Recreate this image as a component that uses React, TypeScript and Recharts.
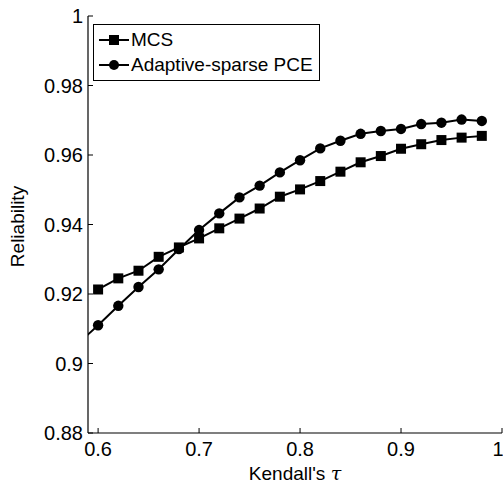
import React from 'react';
import { LineChart, Line, XAxis, YAxis, Legend } from 'recharts';

// Kendall's tau (0.58 only feeds the PCE line, it sits left of the visible range)
const tau = [0.58, 0.6, 0.62, 0.64, 0.66, 0.68, 0.7, 0.72, 0.74, 0.76, 0.78, 0.8, 0.82, 0.84, 0.86, 0.88, 0.9, 0.92, 0.94, 0.96, 0.98];
const mcs = [null, 0.9213, 0.9245, 0.9267, 0.9307, 0.9334, 0.936, 0.9389, 0.9417, 0.9446, 0.948, 0.9501, 0.9525, 0.9552, 0.9579, 0.9597, 0.9618, 0.9631, 0.9643, 0.965, 0.9655];
const pce = [0.9057, 0.911, 0.9166, 0.922, 0.9271, 0.9329, 0.9384, 0.9432, 0.9478, 0.9512, 0.955, 0.9585, 0.9619, 0.9641, 0.9661, 0.9669, 0.9675, 0.9689, 0.9693, 0.9702, 0.9698];

const xTicks = [0.6, 0.7, 0.8, 0.9, 1];
const yTicks = [0.88, 0.9, 0.92, 0.94, 0.96, 0.98, 1];
const seriesNames = ['MCS', 'Adaptive-sparse PCE'];

const data = tau.map((t, i) => ({ tau: t, mcs: mcs[i], pce: pce[i] }));

const FONT = 'Liberation Sans, Arial, Helvetica, sans-serif';
const tickStyle = { fontSize: 20, fill: '#000', fontFamily: FONT };

const SquareDot = (props: any) => {
  const { cx, cy } = props;
  if (cx == null || cy == null) return null;
  return <rect x={cx - 5} y={cy - 5} width={10} height={10} fill="#000" />;
};

const CircleDot = (props: any) => {
  const { cx, cy } = props;
  if (cx == null || cy == null) return null;
  return <circle cx={cx} cy={cy} r={5.2} fill="#000" />;
};

const LegendBox = () => (
  <div style={{ border: '1px solid #000', background: '#fff', padding: '2px 6px 3px 5px', fontFamily: FONT, fontSize: 19, lineHeight: '25px' }}>
    {seriesNames.map((name, i) => (
      <div key={name} style={{ display: 'flex', alignItems: 'center', whiteSpace: 'nowrap' }}>
        <svg width={30} height={14} style={{ marginRight: 2 }}>
          <line x1={0} y1={7} x2={30} y2={7} stroke="#000" strokeWidth={2} />
          {i === 0 ? <rect x={10} y={2} width={10} height={10} fill="#000" /> : <circle cx={15} cy={7} r={5} fill="#000" />}
        </svg>
        <span>{name}</span>
      </div>
    ))}
  </div>
);

const XLabel = (props: any) => {
  const vb = props.viewBox || {};
  return (
    <text x={vb.x + vb.width / 2} y={vb.y + 47} textAnchor="middle" fontSize={19} fontFamily={FONT} fill="#000">
      Kendall's <tspan fontFamily="DejaVu Serif, serif" fontStyle="italic">τ</tspan>
    </text>
  );
};

const YLabel = (props: any) => {
  const vb = props.viewBox || {};
  const cy = vb.y + vb.height / 2 + 2;
  return (
    <text x={17} y={cy} transform={`rotate(-90, 17, ${cy})`} textAnchor="middle" dominantBaseline="central" fontSize={19} fontFamily={FONT} fill="#000">
      Reliability
    </text>
  );
};

export default function App() {
  return (
    <div style={{ position: 'absolute', left: 0, top: 0, background: '#fff' }}>
      <LineChart width={503} height={484} data={data} margin={{ top: 16, right: 1, left: 0, bottom: 0 }}>
        <XAxis
          xAxisId="bottom"
          dataKey="tau"
          type="number"
          domain={[0.59, 1]}
          ticks={xTicks}
          allowDataOverflow
          height={51}
          tickSize={-5}
          tickMargin={14}
          tick={tickStyle}
          stroke="#000"
          axisLine={{ stroke: '#000', strokeWidth: 1.2 }}
          tickLine={{ stroke: '#000' }}
          label={<XLabel />}
        />
        <XAxis
          xAxisId="top"
          dataKey="tau"
          type="number"
          orientation="top"
          domain={[0.59, 1]}
          ticks={xTicks}
          allowDataOverflow
          height={0}
          tickSize={-5}
          tick={false}
          axisLine={{ stroke: '#000', strokeWidth: 1.2 }}
          tickLine={{ stroke: '#000' }}
        />
        <YAxis
          yAxisId="left"
          type="number"
          domain={[0.88, 1]}
          ticks={yTicks}
          allowDataOverflow
          width={88}
          tickSize={-5}
          tickMargin={10}
          tick={tickStyle}
          axisLine={{ stroke: '#000', strokeWidth: 1.2 }}
          tickLine={{ stroke: '#000' }}
          label={<YLabel />}
        />
        <YAxis
          yAxisId="right"
          type="number"
          orientation="right"
          domain={[0.88, 1]}
          ticks={yTicks}
          allowDataOverflow
          width={0}
          tickSize={-5}
          tick={false}
          axisLine={{ stroke: '#888', strokeWidth: 1.2 }}
          tickLine={{ stroke: '#000' }}
        />
        <Legend
          layout="horizontal"
          verticalAlign="middle"
          align="center"
          content={<LegendBox />}
          wrapperStyle={{ left: 93, top: 24, width: 'auto', height: 'auto' }}
        />
        <Line
          xAxisId="bottom"
          yAxisId="left"
          type="linear"
          dataKey="mcs"
          name="MCS"
          stroke="#000"
          strokeWidth={2}
          dot={<SquareDot />}
          activeDot={false}
          isAnimationActive={false}
        />
        <Line
          xAxisId="bottom"
          yAxisId="left"
          type="linear"
          dataKey="pce"
          name="Adaptive-sparse PCE"
          stroke="#000"
          strokeWidth={2}
          dot={<CircleDot />}
          activeDot={false}
          isAnimationActive={false}
        />
      </LineChart>
    </div>
  );
}
